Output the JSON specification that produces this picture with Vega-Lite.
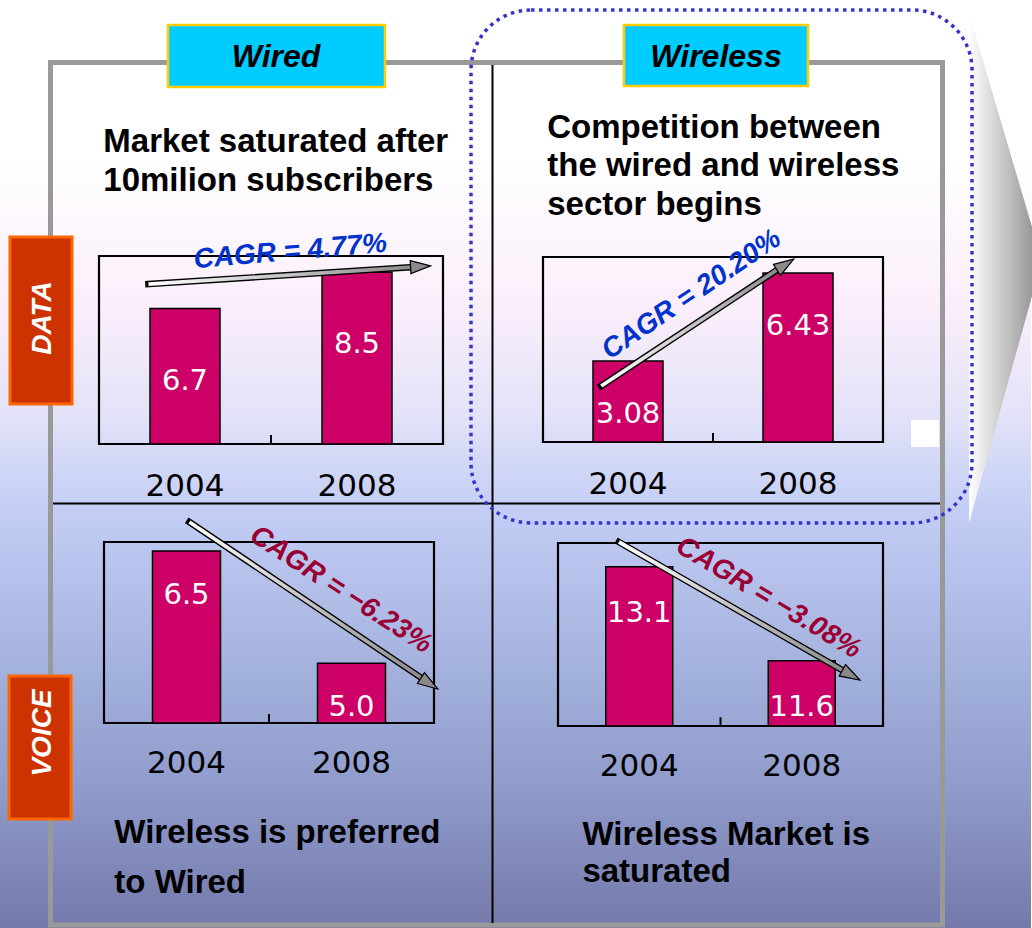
{
  "$schema": "https://vega.github.io/schema/vega-lite/v6.json",
  "width": 1032,
  "height": 928,
  "autosize": {"type": "fit", "contains": "padding"},
  "padding": 0,
  "background": "#ffffff",
  "config": {"view": {"stroke": null}, "axis": {"disable": true}},
  "datasets": {
    "subscribers": [
      {"sector": "Wired", "service": "DATA", "year": 2004, "value": 6.7},
      {"sector": "Wired", "service": "DATA", "year": 2008, "value": 8.5},
      {"sector": "Wireless", "service": "DATA", "year": 2004, "value": 3.08},
      {"sector": "Wireless", "service": "DATA", "year": 2008, "value": 6.43},
      {"sector": "Wired", "service": "VOICE", "year": 2004, "value": 6.5},
      {"sector": "Wired", "service": "VOICE", "year": 2008, "value": 5.0},
      {"sector": "Wireless", "service": "VOICE", "year": 2004, "value": 13.1},
      {"sector": "Wireless", "service": "VOICE", "year": 2008, "value": 11.6}
    ],
    "panels": [
      {"sector": "Wired", "service": "DATA", "note": "Market saturated after\n10milion subscribers", "cagr": "CAGR = 4.77%"},
      {"sector": "Wireless", "service": "DATA", "note": "Competition between\nthe wired and wireless\nsector begins", "cagr": "CAGR = 20.20%"},
      {"sector": "Wired", "service": "VOICE", "note": "Wireless is preferred\nto Wired", "cagr": "CAGR = −6.23%"},
      {"sector": "Wireless", "service": "VOICE", "note": "Wireless Market is\nsaturated", "cagr": "CAGR = −3.08%"}
    ]
  },
  "layer": [
    {
      "data": {"values": [{}]},
      "mark": {"type": "rect", "opacity": 1, "fill": {"gradient": "linear", "x1": 0, "y1": 0, "x2": 0, "y2": 1, "stops": [
        {"offset": 0, "color": "#ffffff"},
        {"offset": 0.17, "color": "#ffffff"},
        {"offset": 0.33, "color": "#fbeefb"},
        {"offset": 0.45, "color": "#e2e2f8"},
        {"offset": 0.55, "color": "#c3cdf5"},
        {"offset": 0.7, "color": "#a7b5e0"},
        {"offset": 0.85, "color": "#8f9bcb"},
        {"offset": 1, "color": "#7479aa"}]}},
      "encoding": {}
    },
    {
      "data": {"values": [{}]},
      "layer": [
        {
          "mark": {"type": "point", "shape": "M0,-1L0.2471,-0.1608L0.2471,0.1098L0,1Z", "size": 260100, "filled": true, "opacity": 1, "strokeWidth": 0,
            "fill": {"gradient": "linear", "x1": 0, "y1": 0, "x2": 1, "y2": 0, "stops": [{"offset": 0, "color": "#ffffff"}, {"offset": 1, "color": "#999999"}]}},
          "encoding": {
            "x": {"datum": 969, "type": "quantitative", "scale": {"domain": [0, 1032], "range": [0, 1032]}, "axis": null},
            "y": {"datum": 268, "type": "quantitative", "scale": {"domain": [0, 928], "range": [0, 928]}, "axis": null}
          }
        },
        {
          "mark": {"type": "rect", "fill": "#ffffff", "opacity": 1},
          "encoding": {
            "x": {"datum": 911, "type": "quantitative", "scale": {"domain": [0, 1032], "range": [0, 1032]}, "axis": null},
            "x2": {"datum": 939},
            "y": {"datum": 420, "type": "quantitative", "scale": {"domain": [0, 928], "range": [0, 928]}, "axis": null},
            "y2": {"datum": 447}
          }
        },
        {
          "mark": {"type": "rect", "fill": "#ffffff", "fillOpacity": 0, "stroke": "#999999", "strokeWidth": 5},
          "encoding": {
            "x": {"datum": 50.5, "type": "quantitative", "scale": {"domain": [0, 1032], "range": [0, 1032]}, "axis": null},
            "x2": {"datum": 942.5},
            "y": {"datum": 62.5, "type": "quantitative", "scale": {"domain": [0, 928], "range": [0, 928]}, "axis": null},
            "y2": {"datum": 925}
          }
        },
        {
          "mark": {"type": "rule", "stroke": "#000000", "strokeWidth": 2},
          "encoding": {
            "x": {"datum": 492.5, "type": "quantitative", "scale": {"domain": [0, 1032], "range": [0, 1032]}, "axis": null},
            "y": {"datum": 65, "type": "quantitative", "scale": {"domain": [0, 928], "range": [0, 928]}, "axis": null},
            "y2": {"datum": 923}
          }
        },
        {
          "mark": {"type": "rule", "stroke": "#000000", "strokeWidth": 2},
          "encoding": {
            "x": {"datum": 53, "type": "quantitative", "scale": {"domain": [0, 1032], "range": [0, 1032]}, "axis": null},
            "x2": {"datum": 940},
            "y": {"datum": 503.5, "type": "quantitative", "scale": {"domain": [0, 928], "range": [0, 928]}, "axis": null}
          }
        },
        {
          "mark": {"type": "rect", "fill": "#00ccff", "stroke": "#ffcc00", "strokeWidth": 2.5, "opacity": 1},
          "encoding": {
            "x": {"datum": 168, "type": "quantitative", "scale": {"domain": [0, 1032], "range": [0, 1032]}, "axis": null},
            "x2": {"datum": 385},
            "y": {"datum": 25, "type": "quantitative", "scale": {"domain": [0, 928], "range": [0, 928]}, "axis": null},
            "y2": {"datum": 87}
          }
        },
        {
          "mark": {"type": "rect", "fill": "#00ccff", "stroke": "#ffcc00", "strokeWidth": 2.5, "opacity": 1},
          "encoding": {
            "x": {"datum": 624, "type": "quantitative", "scale": {"domain": [0, 1032], "range": [0, 1032]}, "axis": null},
            "x2": {"datum": 808},
            "y": {"datum": 25, "type": "quantitative", "scale": {"domain": [0, 928], "range": [0, 928]}, "axis": null},
            "y2": {"datum": 86}
          }
        },
        {
          "mark": {"type": "rect", "fill": "#cc3300", "stroke": "#ff6600", "strokeWidth": 3, "opacity": 1},
          "encoding": {
            "x": {"datum": 10, "type": "quantitative", "scale": {"domain": [0, 1032], "range": [0, 1032]}, "axis": null},
            "x2": {"datum": 72},
            "y": {"datum": 237, "type": "quantitative", "scale": {"domain": [0, 928], "range": [0, 928]}, "axis": null},
            "y2": {"datum": 404}
          }
        },
        {
          "mark": {"type": "rect", "fill": "#cc3300", "stroke": "#ff6600", "strokeWidth": 3, "opacity": 1},
          "encoding": {
            "x": {"datum": 9, "type": "quantitative", "scale": {"domain": [0, 1032], "range": [0, 1032]}, "axis": null},
            "x2": {"datum": 71},
            "y": {"datum": 676, "type": "quantitative", "scale": {"domain": [0, 928], "range": [0, 928]}, "axis": null},
            "y2": {"datum": 819}
          }
        },
        {
          "mark": {"type": "rect", "fill": "#ffffff", "fillOpacity": 0, "stroke": "#3535cc", "strokeWidth": 3.5, "strokeDash": [3.5, 4.5], "cornerRadius": 60},
          "encoding": {
            "x": {"datum": 471, "type": "quantitative", "scale": {"domain": [0, 1032], "range": [0, 1032]}, "axis": null},
            "x2": {"datum": 972},
            "y": {"datum": 10, "type": "quantitative", "scale": {"domain": [0, 928], "range": [0, 928]}, "axis": null},
            "y2": {"datum": 523}
          }
        }
      ]
    },
    {
      "data": {"name": "panels"},
      "transform": [{"filter": {"field": "service", "equal": "DATA"}}],
      "mark": {"type": "text", "font": "Liberation Sans", "fontSize": 32, "fontStyle": "italic", "fontWeight": "bold", "fill": "#000000", "align": "center", "baseline": "middle"},
      "encoding": {
        "x": {"field": "sector", "type": "nominal", "scale": {"type": "band", "domain": ["Wired", "Wireless"], "range": [56, 936], "paddingInner": 0, "paddingOuter": 0}, "axis": null},
        "y": {"datum": 57, "type": "quantitative", "scale": {"domain": [0, 928], "range": [0, 928]}, "axis": null},
        "text": {"field": "sector", "type": "nominal"}
      }
    },
    {
      "data": {"name": "panels"},
      "transform": [{"filter": {"field": "sector", "equal": "Wired"}}],
      "mark": {"type": "text", "font": "Liberation Sans", "fontSize": 28, "fontStyle": "italic", "fontWeight": "bold", "fill": "#ffffff", "align": "center", "baseline": "middle", "angle": 270},
      "encoding": {
        "x": {"datum": 42.5, "type": "quantitative", "scale": {"domain": [0, 1032], "range": [0, 1032]}, "axis": null},
        "y": {"field": "service", "type": "nominal", "scale": {"type": "band", "domain": ["DATA", "VOICE"], "range": [110.5, 940.5], "paddingInner": 0, "paddingOuter": 0}, "axis": null},
        "text": {"field": "service", "type": "nominal"}
      }
    },
    {
      "data": {"name": "panels"},
      "transform": [{"filter": {"and": [{"field": "sector", "equal": "Wired"}, {"field": "service", "equal": "DATA"}]}}],
      "layer": [
        {
          "mark": {"type": "rect", "fill": "#ffffff", "fillOpacity": 0, "stroke": "#000000", "strokeWidth": 2.2},
          "encoding": {
            "x": {"datum": 2002, "type": "quantitative", "scale": {"domain": [2002, 2010], "range": [94, 448]}, "axis": null},
            "x2": {"datum": 2010},
            "y": {"datum": 9.3, "type": "quantitative", "scale": {"domain": [0, 9.3], "range": [444, 256]}, "axis": null},
            "y2": {"datum": 0}
          }
        },
        {
          "mark": {"type": "rule", "stroke": "#000000", "strokeWidth": 2},
          "encoding": {
            "x": {"datum": 2006, "type": "quantitative", "scale": {"domain": [2002, 2010], "range": [94, 448]}, "axis": null},
            "y": {"datum": 0, "type": "quantitative", "scale": {"domain": [0, 9.3], "range": [444, 256]}, "axis": null},
            "y2": {"datum": 0.45}
          }
        },
        {
          "data": {"name": "subscribers"},
          "transform": [{"filter": {"and": [{"field": "sector", "equal": "Wired"}, {"field": "service", "equal": "DATA"}]}}],
          "layer": [
            {
              "mark": {"type": "bar", "width": 70, "fill": "#cc0066", "stroke": "#000000", "strokeWidth": 1.5, "opacity": 1},
              "encoding": {
                "x": {"field": "year", "type": "quantitative", "scale": {"domain": [2002, 2010], "range": [94, 448]}, "axis": null},
                "y": {"field": "value", "type": "quantitative", "scale": {"domain": [0, 9.3], "range": [444, 256]}, "axis": null},
                "y2": {"datum": 0}
              }
            },
            {
              "mark": {"type": "text", "font": "DejaVu Sans", "fontSize": 29, "fill": "#ffffff", "align": "center", "baseline": "middle", "dy": 72},
              "encoding": {
                "x": {"field": "year", "type": "quantitative", "scale": {"domain": [2002, 2010], "range": [94, 448]}, "axis": null},
                "y": {"field": "value", "type": "quantitative", "scale": {"domain": [0, 9.3], "range": [444, 256]}, "axis": null},
                "text": {"field": "value", "type": "quantitative", "format": ".1f"}
              }
            },
            {
              "mark": {"type": "text", "font": "DejaVu Sans", "fontSize": 31, "fill": "#000000", "align": "center", "baseline": "middle", "dy": 43},
              "encoding": {
                "x": {"field": "year", "type": "quantitative", "scale": {"domain": [2002, 2010], "range": [94, 448]}, "axis": null},
                "y": {"datum": 0, "type": "quantitative", "scale": {"domain": [0, 9.3], "range": [444, 256]}, "axis": null},
                "text": {"field": "year", "type": "nominal"}
              }
            }
          ]
        },
        {
          "mark": {"type": "rule", "stroke": "#000000", "strokeWidth": 6.5, "strokeCap": "square"},
          "encoding": {
            "x": {"datum": 2003.15, "type": "quantitative", "scale": {"domain": [2002, 2010], "range": [94, 448]}, "axis": null},
            "y": {"datum": 7.91, "type": "quantitative", "scale": {"domain": [0, 9.3], "range": [444, 256]}, "axis": null},
            "x2": {"datum": 2009.35},
            "y2": {"datum": 8.76}
          }
        },
        {
          "mark": {"type": "rule", "strokeWidth": 3.8, "strokeCap": "butt", "stroke": {"gradient": "linear", "x1": 0, "y1": 0, "x2": 1, "y2": 0, "stops": [{"offset": 0, "color": "#ffffff"}, {"offset": 1, "color": "#8a8a8a"}]}},
          "encoding": {
            "x": {"datum": 2003.15, "type": "quantitative", "scale": {"domain": [2002, 2010], "range": [94, 448]}, "axis": null},
            "y": {"datum": 7.91, "type": "quantitative", "scale": {"domain": [0, 9.3], "range": [444, 256]}, "axis": null},
            "x2": {"datum": 2009.35},
            "y2": {"datum": 8.76}
          }
        },
        {
          "mark": {"type": "point", "shape": "M0,0L-2,-0.65L-2,0.65Z", "size": 400, "filled": true, "fill": "#8a8a8a", "stroke": "#000000", "strokeWidth": 1.2, "opacity": 1, "angle": 356.45},
          "encoding": {
            "x": {"datum": 2009.71, "type": "quantitative", "scale": {"domain": [2002, 2010], "range": [94, 448]}, "axis": null},
            "y": {"datum": 8.81, "type": "quantitative", "scale": {"domain": [0, 9.3], "range": [444, 256]}, "axis": null}
          }
        },
        {
          "mark": {"type": "text", "font": "Liberation Sans", "fontSize": 28, "fontStyle": "italic", "fontWeight": "bold", "fill": "#0033cc", "align": "center", "baseline": "middle", "angle": 355},
          "encoding": {
            "x": {"datum": 2006.45, "type": "quantitative", "scale": {"domain": [2002, 2010], "range": [94, 448]}, "axis": null},
            "y": {"datum": 9.5, "type": "quantitative", "scale": {"domain": [0, 9.3], "range": [444, 256]}, "axis": null},
            "text": {"field": "cagr", "type": "nominal"}
          }
        },
        {
          "mark": {"type": "text", "font": "Liberation Sans", "fontSize": 33, "fontWeight": "bold", "fill": "#000000", "align": "left", "baseline": "alphabetic", "lineBreak": "\n", "lineHeight": 39},
          "encoding": {
            "x": {"datum": 2002.1, "type": "quantitative", "scale": {"domain": [2002, 2010], "range": [94, 448]}, "axis": null},
            "y": {"datum": 14.445, "type": "quantitative", "scale": {"domain": [0, 9.3], "range": [444, 256]}, "axis": null},
            "text": {"field": "note", "type": "nominal"}
          }
        }
      ]
    },
    {
      "data": {"name": "panels"},
      "transform": [{"filter": {"and": [{"field": "sector", "equal": "Wireless"}, {"field": "service", "equal": "DATA"}]}}],
      "layer": [
        {
          "mark": {"type": "rect", "fill": "#ffffff", "fillOpacity": 0, "stroke": "#000000", "strokeWidth": 2.2},
          "encoding": {
            "x": {"datum": 2002, "type": "quantitative", "scale": {"domain": [2002, 2010], "range": [538, 888]}, "axis": null},
            "x2": {"datum": 2010},
            "y": {"datum": 7.04, "type": "quantitative", "scale": {"domain": [0, 7.04], "range": [442, 257]}, "axis": null},
            "y2": {"datum": 0}
          }
        },
        {
          "mark": {"type": "rule", "stroke": "#000000", "strokeWidth": 2},
          "encoding": {
            "x": {"datum": 2006, "type": "quantitative", "scale": {"domain": [2002, 2010], "range": [538, 888]}, "axis": null},
            "y": {"datum": 0, "type": "quantitative", "scale": {"domain": [0, 7.04], "range": [442, 257]}, "axis": null},
            "y2": {"datum": 0.34}
          }
        },
        {
          "data": {"name": "subscribers"},
          "transform": [{"filter": {"and": [{"field": "sector", "equal": "Wireless"}, {"field": "service", "equal": "DATA"}]}}],
          "layer": [
            {
              "mark": {"type": "bar", "width": 70, "fill": "#cc0066", "stroke": "#000000", "strokeWidth": 1.5, "opacity": 1},
              "encoding": {
                "x": {"field": "year", "type": "quantitative", "scale": {"domain": [2002, 2010], "range": [538, 888]}, "axis": null},
                "y": {"field": "value", "type": "quantitative", "scale": {"domain": [0, 7.04], "range": [442, 257]}, "axis": null},
                "y2": {"datum": 0}
              }
            },
            {
              "mark": {"type": "text", "font": "DejaVu Sans", "fontSize": 29, "fill": "#ffffff", "align": "center", "baseline": "middle", "dy": 53},
              "encoding": {
                "x": {"field": "year", "type": "quantitative", "scale": {"domain": [2002, 2010], "range": [538, 888]}, "axis": null},
                "y": {"field": "value", "type": "quantitative", "scale": {"domain": [0, 7.04], "range": [442, 257]}, "axis": null},
                "text": {"field": "value", "type": "quantitative", "format": ".2f"}
              }
            },
            {
              "mark": {"type": "text", "font": "DejaVu Sans", "fontSize": 31, "fill": "#000000", "align": "center", "baseline": "middle", "dy": 43},
              "encoding": {
                "x": {"field": "year", "type": "quantitative", "scale": {"domain": [2002, 2010], "range": [538, 888]}, "axis": null},
                "y": {"datum": 0, "type": "quantitative", "scale": {"domain": [0, 7.04], "range": [442, 257]}, "axis": null},
                "text": {"field": "year", "type": "nominal"}
              }
            }
          ]
        },
        {
          "mark": {"type": "rule", "stroke": "#000000", "strokeWidth": 6.5, "strokeCap": "square"},
          "encoding": {
            "x": {"datum": 2003.37, "type": "quantitative", "scale": {"domain": [2002, 2010], "range": [538, 888]}, "axis": null},
            "y": {"datum": 2.13, "type": "quantitative", "scale": {"domain": [0, 7.04], "range": [442, 257]}, "axis": null},
            "x2": {"datum": 2007.59},
            "y2": {"datum": 6.64}
          }
        },
        {
          "mark": {"type": "rule", "strokeWidth": 3.8, "strokeCap": "butt", "stroke": {"gradient": "linear", "x1": 0, "y1": 0, "x2": 1, "y2": 0, "stops": [{"offset": 0, "color": "#ffffff"}, {"offset": 1, "color": "#8a8a8a"}]}},
          "encoding": {
            "x": {"datum": 2003.37, "type": "quantitative", "scale": {"domain": [2002, 2010], "range": [538, 888]}, "axis": null},
            "y": {"datum": 2.13, "type": "quantitative", "scale": {"domain": [0, 7.04], "range": [442, 257]}, "axis": null},
            "x2": {"datum": 2007.59},
            "y2": {"datum": 6.64}
          }
        },
        {
          "mark": {"type": "point", "shape": "M0,0L-2,-0.65L-2,0.65Z", "size": 400, "filled": true, "fill": "#8a8a8a", "stroke": "#000000", "strokeWidth": 1.2, "opacity": 1, "angle": 327.3},
          "encoding": {
            "x": {"datum": 2007.9, "type": "quantitative", "scale": {"domain": [2002, 2010], "range": [538, 888]}, "axis": null},
            "y": {"datum": 6.96, "type": "quantitative", "scale": {"domain": [0, 7.04], "range": [442, 257]}, "axis": null}
          }
        },
        {
          "mark": {"type": "text", "font": "Liberation Sans", "fontSize": 28, "fontStyle": "italic", "fontWeight": "bold", "fill": "#0033cc", "align": "center", "baseline": "middle", "angle": 326},
          "encoding": {
            "x": {"datum": 2005.5, "type": "quantitative", "scale": {"domain": [2002, 2010], "range": [538, 888]}, "axis": null},
            "y": {"datum": 5.6, "type": "quantitative", "scale": {"domain": [0, 7.04], "range": [442, 257]}, "axis": null},
            "text": {"field": "cagr", "type": "nominal"}
          }
        },
        {
          "mark": {"type": "text", "font": "Liberation Sans", "fontSize": 33, "fontWeight": "bold", "fill": "#000000", "align": "left", "baseline": "alphabetic", "lineBreak": "\n", "lineHeight": 38.5},
          "encoding": {
            "x": {"datum": 2002.1, "type": "quantitative", "scale": {"domain": [2002, 2010], "range": [538, 888]}, "axis": null},
            "y": {"datum": 11.57, "type": "quantitative", "scale": {"domain": [0, 7.04], "range": [442, 257]}, "axis": null},
            "text": {"field": "note", "type": "nominal"}
          }
        }
      ]
    },
    {
      "data": {"name": "panels"},
      "transform": [{"filter": {"and": [{"field": "sector", "equal": "Wired"}, {"field": "service", "equal": "VOICE"}]}}],
      "layer": [
        {
          "mark": {"type": "rect", "fill": "#ffffff", "fillOpacity": 0, "stroke": "#000000", "strokeWidth": 2.2},
          "encoding": {
            "x": {"datum": 2002, "type": "quantitative", "scale": {"domain": [2002, 2010], "range": [99, 439]}, "axis": null},
            "x2": {"datum": 2010},
            "y": {"datum": 6.62, "type": "quantitative", "scale": {"domain": [4.2, 6.62], "range": [723, 542]}, "axis": null},
            "y2": {"datum": 4.2}
          }
        },
        {
          "mark": {"type": "rule", "stroke": "#000000", "strokeWidth": 2},
          "encoding": {
            "x": {"datum": 2006, "type": "quantitative", "scale": {"domain": [2002, 2010], "range": [99, 439]}, "axis": null},
            "y": {"datum": 4.2, "type": "quantitative", "scale": {"domain": [4.2, 6.62], "range": [723, 542]}, "axis": null},
            "y2": {"datum": 4.32}
          }
        },
        {
          "data": {"name": "subscribers"},
          "transform": [{"filter": {"and": [{"field": "sector", "equal": "Wired"}, {"field": "service", "equal": "VOICE"}]}}],
          "layer": [
            {
              "mark": {"type": "bar", "width": 68, "fill": "#cc0066", "stroke": "#000000", "strokeWidth": 1.5, "opacity": 1},
              "encoding": {
                "x": {"field": "year", "type": "quantitative", "scale": {"domain": [2002, 2010], "range": [99, 439]}, "axis": null},
                "y": {"field": "value", "type": "quantitative", "scale": {"domain": [4.2, 6.62], "range": [723, 542]}, "axis": null},
                "y2": {"datum": 4.2}
              }
            },
            {
              "mark": {"type": "text", "font": "DejaVu Sans", "fontSize": 29, "fill": "#ffffff", "align": "center", "baseline": "middle", "dy": 44},
              "encoding": {
                "x": {"field": "year", "type": "quantitative", "scale": {"domain": [2002, 2010], "range": [99, 439]}, "axis": null},
                "y": {"field": "value", "type": "quantitative", "scale": {"domain": [4.2, 6.62], "range": [723, 542]}, "axis": null},
                "text": {"field": "value", "type": "quantitative", "format": ".1f"}
              }
            },
            {
              "mark": {"type": "text", "font": "DejaVu Sans", "fontSize": 31, "fill": "#000000", "align": "center", "baseline": "middle", "dy": 41},
              "encoding": {
                "x": {"field": "year", "type": "quantitative", "scale": {"domain": [2002, 2010], "range": [99, 439]}, "axis": null},
                "y": {"datum": 4.2, "type": "quantitative", "scale": {"domain": [4.2, 6.62], "range": [723, 542]}, "axis": null},
                "text": {"field": "year", "type": "nominal"}
              }
            }
          ]
        },
        {
          "mark": {"type": "rule", "stroke": "#000000", "strokeWidth": 6.5, "strokeCap": "square"},
          "encoding": {
            "x": {"datum": 2004.07, "type": "quantitative", "scale": {"domain": [2002, 2010], "range": [99, 439]}, "axis": null},
            "y": {"datum": 6.887, "type": "quantitative", "scale": {"domain": [4.2, 6.62], "range": [723, 542]}, "axis": null},
            "x2": {"datum": 2009.78},
            "y2": {"datum": 4.771}
          }
        },
        {
          "mark": {"type": "rule", "strokeWidth": 3.8, "strokeCap": "butt", "stroke": {"gradient": "linear", "x1": 0, "y1": 0, "x2": 1, "y2": 0, "stops": [{"offset": 0, "color": "#ffffff"}, {"offset": 1, "color": "#8a8a8a"}]}},
          "encoding": {
            "x": {"datum": 2004.07, "type": "quantitative", "scale": {"domain": [2002, 2010], "range": [99, 439]}, "axis": null},
            "y": {"datum": 6.887, "type": "quantitative", "scale": {"domain": [4.2, 6.62], "range": [723, 542]}, "axis": null},
            "x2": {"datum": 2009.78},
            "y2": {"datum": 4.771}
          }
        },
        {
          "mark": {"type": "point", "shape": "M0,0L-2,-0.65L-2,0.65Z", "size": 400, "filled": true, "fill": "#8a8a8a", "stroke": "#000000", "strokeWidth": 1.2, "opacity": 1, "angle": 33.1},
          "encoding": {
            "x": {"datum": 2010.09, "type": "quantitative", "scale": {"domain": [2002, 2010], "range": [99, 439]}, "axis": null},
            "y": {"datum": 4.655, "type": "quantitative", "scale": {"domain": [4.2, 6.62], "range": [723, 542]}, "axis": null}
          }
        },
        {
          "mark": {"type": "text", "font": "Liberation Sans", "fontSize": 28, "fontStyle": "italic", "fontWeight": "bold", "fill": "#990033", "align": "center", "baseline": "middle", "angle": 33},
          "encoding": {
            "x": {"datum": 2007.741, "type": "quantitative", "scale": {"domain": [2002, 2010], "range": [99, 439]}, "axis": null},
            "y": {"datum": 5.978, "type": "quantitative", "scale": {"domain": [4.2, 6.62], "range": [723, 542]}, "axis": null},
            "text": {"field": "cagr", "type": "nominal"}
          }
        },
        {
          "mark": {"type": "text", "font": "Liberation Sans", "fontSize": 33, "fontWeight": "bold", "fill": "#000000", "align": "left", "baseline": "alphabetic", "lineBreak": "\n", "lineHeight": 50},
          "encoding": {
            "x": {"datum": 2002.25, "type": "quantitative", "scale": {"domain": [2002, 2010], "range": [99, 439]}, "axis": null},
            "y": {"datum": 2.596, "type": "quantitative", "scale": {"domain": [4.2, 6.62], "range": [723, 542]}, "axis": null},
            "text": {"field": "note", "type": "nominal"}
          }
        }
      ]
    },
    {
      "data": {"name": "panels"},
      "transform": [{"filter": {"and": [{"field": "sector", "equal": "Wireless"}, {"field": "service", "equal": "VOICE"}]}}],
      "layer": [
        {
          "mark": {"type": "rect", "fill": "#ffffff", "fillOpacity": 0, "stroke": "#000000", "strokeWidth": 2.2},
          "encoding": {
            "x": {"datum": 2002, "type": "quantitative", "scale": {"domain": [2002, 2010], "range": [553, 888]}, "axis": null},
            "x2": {"datum": 2010},
            "y": {"datum": 13.48, "type": "quantitative", "scale": {"domain": [10.56, 13.48], "range": [726, 543]}, "axis": null},
            "y2": {"datum": 10.56}
          }
        },
        {
          "mark": {"type": "rule", "stroke": "#000000", "strokeWidth": 2},
          "encoding": {
            "x": {"datum": 2006, "type": "quantitative", "scale": {"domain": [2002, 2010], "range": [553, 888]}, "axis": null},
            "y": {"datum": 10.56, "type": "quantitative", "scale": {"domain": [10.56, 13.48], "range": [726, 543]}, "axis": null},
            "y2": {"datum": 10.7}
          }
        },
        {
          "data": {"name": "subscribers"},
          "transform": [{"filter": {"and": [{"field": "sector", "equal": "Wireless"}, {"field": "service", "equal": "VOICE"}]}}],
          "layer": [
            {
              "mark": {"type": "bar", "width": 67, "fill": "#cc0066", "stroke": "#000000", "strokeWidth": 1.5, "opacity": 1},
              "encoding": {
                "x": {"field": "year", "type": "quantitative", "scale": {"domain": [2002, 2010], "range": [553, 888]}, "axis": null},
                "y": {"field": "value", "type": "quantitative", "scale": {"domain": [10.56, 13.48], "range": [726, 543]}, "axis": null},
                "y2": {"datum": 10.56}
              }
            },
            {
              "mark": {"type": "text", "font": "DejaVu Sans", "fontSize": 29, "fill": "#ffffff", "align": "center", "baseline": "middle", "dy": 46},
              "encoding": {
                "x": {"field": "year", "type": "quantitative", "scale": {"domain": [2002, 2010], "range": [553, 888]}, "axis": null},
                "y": {"field": "value", "type": "quantitative", "scale": {"domain": [10.56, 13.48], "range": [726, 543]}, "axis": null},
                "text": {"field": "value", "type": "quantitative", "format": ".1f"}
              }
            },
            {
              "mark": {"type": "text", "font": "DejaVu Sans", "fontSize": 31, "fill": "#000000", "align": "center", "baseline": "middle", "dy": 41},
              "encoding": {
                "x": {"field": "year", "type": "quantitative", "scale": {"domain": [2002, 2010], "range": [553, 888]}, "axis": null},
                "y": {"datum": 10.56, "type": "quantitative", "scale": {"domain": [10.56, 13.48], "range": [726, 543]}, "axis": null},
                "text": {"field": "year", "type": "nominal"}
              }
            }
          ]
        },
        {
          "mark": {"type": "rule", "stroke": "#000000", "strokeWidth": 6.5, "strokeCap": "square"},
          "encoding": {
            "x": {"datum": 2003.5, "type": "quantitative", "scale": {"domain": [2002, 2010], "range": [553, 888]}, "axis": null},
            "y": {"datum": 13.496, "type": "quantitative", "scale": {"domain": [10.56, 13.48], "range": [726, 543]}, "axis": null},
            "x2": {"datum": 2009.09},
            "y2": {"datum": 11.418}
          }
        },
        {
          "mark": {"type": "rule", "strokeWidth": 3.8, "strokeCap": "butt", "stroke": {"gradient": "linear", "x1": 0, "y1": 0, "x2": 1, "y2": 0, "stops": [{"offset": 0, "color": "#ffffff"}, {"offset": 1, "color": "#8a8a8a"}]}},
          "encoding": {
            "x": {"datum": 2003.5, "type": "quantitative", "scale": {"domain": [2002, 2010], "range": [553, 888]}, "axis": null},
            "y": {"datum": 13.496, "type": "quantitative", "scale": {"domain": [10.56, 13.48], "range": [726, 543]}, "axis": null},
            "x2": {"datum": 2009.09},
            "y2": {"datum": 11.418}
          }
        },
        {
          "mark": {"type": "point", "shape": "M0,0L-2,-0.65L-2,0.65Z", "size": 400, "filled": true, "fill": "#8a8a8a", "stroke": "#000000", "strokeWidth": 1.2, "opacity": 1, "angle": 29.1},
          "encoding": {
            "x": {"datum": 2009.43, "type": "quantitative", "scale": {"domain": [2002, 2010], "range": [553, 888]}, "axis": null},
            "y": {"datum": 11.294, "type": "quantitative", "scale": {"domain": [10.56, 13.48], "range": [726, 543]}, "axis": null}
          }
        },
        {
          "mark": {"type": "text", "font": "Liberation Sans", "fontSize": 28, "fontStyle": "italic", "fontWeight": "bold", "fill": "#990033", "align": "center", "baseline": "middle", "angle": 31},
          "encoding": {
            "x": {"datum": 2007.182, "type": "quantitative", "scale": {"domain": [2002, 2010], "range": [553, 888]}, "axis": null},
            "y": {"datum": 12.602, "type": "quantitative", "scale": {"domain": [10.56, 13.48], "range": [726, 543]}, "axis": null},
            "text": {"field": "cagr", "type": "nominal"}
          }
        },
        {
          "mark": {"type": "text", "font": "Liberation Sans", "fontSize": 33, "fontWeight": "bold", "fill": "#000000", "align": "left", "baseline": "alphabetic", "lineBreak": "\n", "lineHeight": 37},
          "encoding": {
            "x": {"datum": 2002.6, "type": "quantitative", "scale": {"domain": [2002, 2010], "range": [553, 888]}, "axis": null},
            "y": {"datum": 8.661, "type": "quantitative", "scale": {"domain": [10.56, 13.48], "range": [726, 543]}, "axis": null},
            "text": {"field": "note", "type": "nominal"}
          }
        }
      ]
    }
  ],
  "resolve": {"scale": {"x": "independent", "y": "independent"}}
}
